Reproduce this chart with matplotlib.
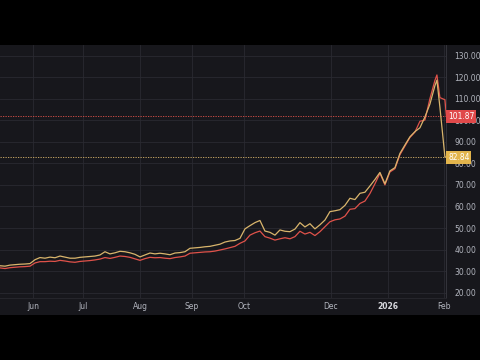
import matplotlib.pyplot as plt
import matplotlib.patches as mpatches
import numpy as np

# series sampled every bar-step (index units), last point is the latest quote
yellow = [32.5, 32.3, 32.8, 33.0, 33.2, 33.3, 33.5, 35.3, 36.3, 36.0,
          36.5, 36.2, 37.0, 36.5, 36.0, 36.0, 36.4, 36.6, 36.8, 37.0,
          37.5, 39.0, 38.0, 38.5, 39.2, 39.0, 38.5, 37.8, 36.6, 37.5,
          38.4, 38.0, 38.3, 38.0, 37.6, 38.4, 38.6, 39.0, 40.6, 40.8,
          41.0, 41.3, 41.5, 42.0, 42.5, 43.5, 44.0, 44.2, 45.2, 49.6,
          51.1, 52.5, 53.5, 48.6, 48.0, 46.7, 49.1, 48.5, 48.3, 49.5,
          52.5, 50.5, 52.0, 49.6, 51.5, 53.7, 57.6, 58.0, 58.5, 60.5,
          63.8, 63.2, 66.1, 66.6, 69.5, 72.5, 75.8, 70.5, 76.5, 78.0,
          84.6, 88.5, 92.3, 94.7, 96.5, 101.5, 107.5, 116.0, 118.6, 106.0,
          83.0, 82.84]
red = [31.5, 31.2, 31.6, 31.8, 32.0, 32.1, 32.3, 33.8, 34.4, 34.4,
       34.6, 34.5, 35.0, 34.7, 34.3, 34.1, 34.5, 34.7, 34.9, 35.2,
       35.6, 36.3, 35.9, 36.4, 37.0, 36.8, 36.4, 35.7, 35.0, 35.8,
       36.4, 36.2, 36.3, 36.0, 35.8, 36.3, 36.6, 37.0, 38.3, 38.5,
       38.7, 38.9, 39.0, 39.3, 39.8, 40.3, 40.9, 41.5, 42.9, 44.0,
       46.7, 47.8, 48.6, 46.0, 45.3, 44.4, 45.0, 45.5, 45.0, 46.0,
       48.5, 47.2, 48.0, 46.5, 48.3, 50.6, 52.9, 53.8, 54.2, 55.5,
       58.7, 59.0, 61.4, 62.5, 66.0, 70.5, 75.4, 70.0, 76.0, 77.5,
       84.0, 88.0, 92.0, 94.5, 99.5, 100.1, 110.0, 118.5, 121.0, 110.5,
       109.5, 101.87]
# bar positions: regular steps, then the peak bar and the last quote in between
x = list(range(87)) + [87.0, 87.4, 88.0, 89.0, 89.3]

tick_pos = [6.6, 16.6, 28.0, 38.4, 48.8, 66.2, 77.6, 88.8]
tick_lbl = ['Jun', 'Jul', 'Aug', 'Sep', 'Oct', 'Dec', '2026', 'Feb']
price_ticks = [20, 30, 40, 50, 60, 70, 80, 90, 100, 110, 120, 130]

bg = '#17171c'
grid = '#2a2a31'
txt = '#b2b5be'
c_y = '#d9b56c'
c_r = '#e0524a'

fig = plt.figure(figsize=(4.8, 3.6), dpi=100)
fig.patch.set_facecolor('black')
fig.patches.append(mpatches.Rectangle((0, 0.125), 1, 0.75, transform=fig.transFigure,
                                      facecolor=bg, edgecolor='none', zorder=-10))

ax = fig.add_axes([0, 0.172, 0.929, 0.703])
ax.set_facecolor(bg)
ax.plot(x, red, color=c_r, lw=0.9, zorder=3)
ax.plot(x, yellow, color=c_y, lw=0.9, zorder=4)

ax.axhline(red[-1], color=c_r, lw=0.6, ls=(0, (1.5, 1.5)), zorder=2)
ax.axhline(yellow[-1], color=c_y, lw=0.6, ls=(0, (1.5, 1.5)), zorder=2)

ax.set_xlim(0, 89.2)
ax.set_ylim(17.5, 134.9)
ax.set_xticks(tick_pos)
ax.set_xticklabels(tick_lbl)
ax.set_yticks(price_ticks)
ax.set_yticklabels([f'{v:.2f}' for v in price_ticks])
ax.yaxis.tick_right()
ax.tick_params(axis='both', length=0, labelsize=5.5, colors=txt)
ax.tick_params(axis='y', pad=6)
ax.tick_params(axis='x', pad=3)
for lbl in ax.get_xticklabels():
    if lbl.get_text() == '2026':
        lbl.set_fontweight('bold')
        lbl.set_color('#d8d9de')
ax.grid(True, color=grid, lw=0.6)
for s in ['top', 'left']:
    ax.spines[s].set_visible(False)
ax.spines['right'].set_color('#34343b')
ax.spines['bottom'].set_color('#26262c')
ax.spines['right'].set_linewidth(0.7)
ax.spines['bottom'].set_linewidth(0.7)

# last value badges on the price scale (they cover the 80/100 labels as in the reference)
for val, col, tcol in [(red[-1], '#e0494a', 'white'), (yellow[-1], '#e2b44c', 'white')]:
    ax.annotate(f'{val:.2f}', xy=(1.0, val), xycoords=('axes fraction', 'data'),
                xytext=(1.5, 0), textcoords='offset points', ha='left', va='center',
                fontsize=5.5, color=tcol, annotation_clip=False, zorder=10,
                bbox=dict(boxstyle='square,pad=0.25', fc=col, ec='none'))

fig.savefig('out.png', dpi=100, facecolor=fig.get_facecolor())
